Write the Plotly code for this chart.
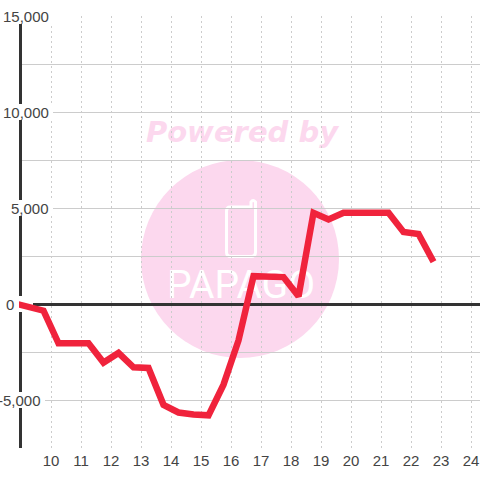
import plotly.graph_objects as go

hours = [8.87, 9.75, 10.25, 10.75, 11.25, 11.75, 12.25, 12.75, 13.25, 13.75, 14.25, 14.75, 15.25, 15.75,
         16.25, 16.75, 17.25, 17.75, 18.25, 18.75, 19.25, 19.75, 20.25, 20.75, 21.25, 21.75, 22.25, 22.75]
values = [0, -350, -2050, -2050, -2050, -3050, -2550, -3300, -3330, -5250, -5650, -5750, -5800, -4200,
          -1900, 1450, 1400, 1400, 400, 4750, 4400, 4750, 4750, 4750, 4750, 3750, 3650, 2200]
x_ticks = list(range(10, 25))
y_labels = ["15,000", "10,000", "5,000", "0", "-5,000"]
y_label_vals = [15000, 10000, 5000, 0, -5000]
y_label_right_px = [51, 51, 51, 16, 43]

W, H = 480, 480
L, R, T, B = 19, 0, 16, 32
x_range = [10 - 32 / 30, 10 + 429 / 30]
y_range = [-7500, 15000]
GRID = "#cccccc"
DARK = "#333333"
PINK = "#fcd8ee"


def xd(px):
    return 10 + (px - 51) / 30


def yd(py):
    return (304 - py) * 5000 / 96


fig = go.Figure()

# Watermark layer, on the lower subplot so the grid and the line run over it
fig.add_trace(go.Scatter(
    x=[xd(242)], y=[yd(135)], mode="text", text=["Powered by"], xaxis="x", yaxis="y",
    textfont=dict(family="DejaVu Sans", size=29, color=PINK, weight="bold", style="italic"),
    hoverinfo="skip", showlegend=False, cliponaxis=False))
fig.add_trace(go.Scatter(
    x=[xd(241)], y=[yd(288)], mode="text", text=["PAPAGO"], xaxis="x", yaxis="y",
    textfont=dict(family="Roboto", size=39, color="white"),
    hoverinfo="skip", showlegend=False, cliponaxis=False))

# Data line
fig.add_trace(go.Scatter(
    x=hours, y=values, mode="lines", xaxis="x2", yaxis="y2",
    line=dict(color="#f0233c", width=6.5, shape="linear"),
    hoverinfo="skip", showlegend=False, cliponaxis=False))


def px_x(px):
    return (px - L) / (W - L - R)


def px_y(py):
    return 1 - (py - T) / (H - T - B)


shapes = [
    # Watermark disc and phone icon, underneath everything
    dict(type="circle", xref="paper", yref="paper", layer="below", line_width=0, fillcolor=PINK,
         x0=px_x(141), x1=px_x(339), y0=px_y(358), y1=px_y(160)),
    dict(type="path", xref="paper", yref="paper", layer="below",
         line=dict(color="white", width=3), fillcolor="rgba(0,0,0,0)",
         path=" ".join([
             f"M {px_x(230)} {px_y(207)}", f"L {px_x(251)} {px_y(207)}",
             f"L {px_x(251)} {px_y(202)}", f"Q {px_x(253)} {px_y(199)} {px_x(255.5)} {px_y(202)}",
             f"L {px_x(255.5)} {px_y(252)}", f"Q {px_x(255.5)} {px_y(256.5)} {px_x(251)} {px_y(256.5)}",
             f"L {px_x(231)} {px_y(256.5)}", f"Q {px_x(226.5)} {px_y(256.5)} {px_x(226.5)} {px_y(252)}",
             f"L {px_x(226.5)} {px_y(211)}", f"Q {px_x(226.5)} {px_y(207)} {px_x(230)} {px_y(207)}", "Z"])),
    # Left axis bar
    dict(type="line", xref="x2", yref="y2", layer="between", line=dict(color=DARK, width=3),
         x0=xd(20.5), x1=xd(20.5), y0=y_range[0], y1=y_range[1]),
]
# White boxes behind the value labels
mask_boxes = [(3, 53, 8, 24), (3, 53, 104, 120), (3, 53, 200, 216), (3, 33, 296, 312), (3, 45, 392, 408)]
for x0, x1, y0, y1 in mask_boxes:
    shapes.append(dict(type="rect", xref="x2", yref="y2", layer="between", line_width=0,
                       fillcolor="white", x0=xd(x0), x1=xd(x1), y0=yd(y1), y1=yd(y0)))

annotations = [
    dict(text=t, xref="paper", yref="y2", x=px_x(p), y=v, xanchor="right", yanchor="middle",
         showarrow=False, align="right", xshift=0,
         font=dict(family="Liberation Sans", size=15, color="#444444"))
    for t, v, p in zip(y_labels, y_label_vals, y_label_right_px)
]

hidden = dict(visible=False, fixedrange=True)
fig.update_layout(
    width=W, height=H, margin=dict(l=L, r=R, t=T, b=B, pad=0),
    paper_bgcolor="white", plot_bgcolor="rgba(0,0,0,0)", showlegend=False,
    shapes=shapes, annotations=annotations,
    xaxis=dict(domain=[0, 1], range=x_range, anchor="y", **hidden),
    yaxis=dict(domain=[0, 1], range=y_range, anchor="x", **hidden),
    xaxis2=dict(domain=[0, 1], range=x_range, anchor="y2", tickmode="array", tickvals=x_ticks,
                ticktext=[str(v) for v in x_ticks], ticks="", showline=False, zeroline=False,
                showgrid=True, gridcolor=GRID, gridwidth=1, griddash="2px,3px",
                tickfont=dict(family="Liberation Sans", size=15, color="#444444"), ticklabelstandoff=2),
    yaxis2=dict(domain=[0, 1], range=y_range, anchor="x2", tickmode="linear", tick0=0, dtick=2500,
                showticklabels=False, ticks="", showline=False, showgrid=True, gridcolor=GRID,
                gridwidth=1, zeroline=True, zerolinecolor=DARK, zerolinewidth=3),
)
fig.write_html("out.html", config=dict(displayModeBar=False),
               post_script="document.body.style.margin='0';document.documentElement.style.overflow='hidden';")
